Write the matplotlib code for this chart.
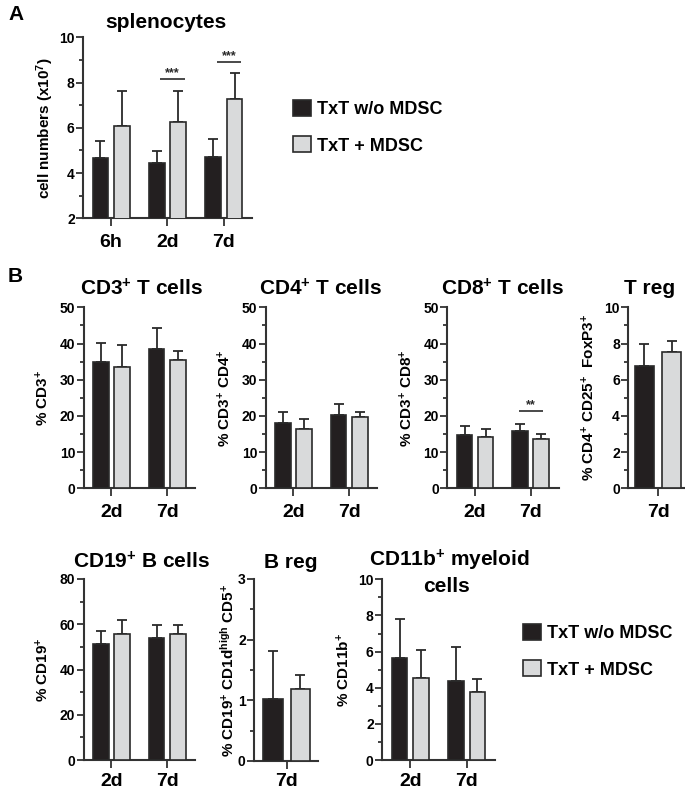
import matplotlib
matplotlib.use('Agg')
import matplotlib.pyplot as plt
from matplotlib.patches import Patch
from matplotlib.ticker import MultipleLocator
import numpy as np

plt.rcParams['font.family'] = ['Liberation Sans', 'DejaVu Sans']
plt.rcParams['font.weight'] = 'bold'
plt.rcParams['mathtext.fontset'] = 'custom'
plt.rcParams['mathtext.rm'] = 'Liberation Sans:bold'
plt.rcParams['mathtext.it'] = 'Liberation Sans:bold'
plt.rcParams['mathtext.bf'] = 'Liberation Sans:bold'
plt.rcParams['mathtext.sf'] = 'Liberation Sans:bold'
plt.rcParams['mathtext.default'] = 'rm'

# ---------------- data ----------------
series = ['TxT w/o MDSC', 'TxT + MDSC']

spl_cats = ['6h', '2d', '7d']
spl_wo = [4.68, 4.43, 4.71]
spl_wo_sd = [0.74, 0.56, 0.81]
spl_md = [6.08, 6.26, 7.26]
spl_md_sd = [1.55, 1.37, 1.16]
spl_sig = [(1, 8.17, '***'), (2, 8.91, '***')]

cd3_cats = ['2d', '7d']
cd3_wo = [34.8, 38.4]
cd3_wo_sd = [5.4, 5.9]
cd3_md = [33.5, 35.4]
cd3_md_sd = [6.1, 2.5]

cd4_cats = ['2d', '7d']
cd4_wo = [18.0, 20.3]
cd4_wo_sd = [3.2, 3.1]
cd4_md = [16.5, 19.7]
cd4_md_sd = [2.7, 1.5]

cd8_cats = ['2d', '7d']
cd8_wo = [14.7, 15.7]
cd8_wo_sd = [2.5, 2.0]
cd8_md = [14.2, 13.5]
cd8_md_sd = [2.1, 1.6]
cd8_sig = [(1, 21.4, '**')]

treg_cats = ['7d']
treg_wo = [6.74]
treg_wo_sd = [1.22]
treg_md = [7.51]
treg_md_sd = [0.61]

cd19_cats = ['2d', '7d']
cd19_wo = [51.3, 53.9]
cd19_wo_sd = [5.6, 5.6]
cd19_md = [55.8, 55.8]
cd19_md_sd = [5.9, 3.7]

breg_cats = ['7d']
breg_wo = [1.03]
breg_wo_sd = [0.78]
breg_md = [1.18]
breg_md_sd = [0.24]

cd11_cats = ['2d', '7d']
cd11_wo = [5.63, 4.39]
cd11_wo_sd = [2.16, 1.86]
cd11_md = [4.52, 3.78]
cd11_md_sd = [1.57, 0.70]

# ---------------- style ----------------
BLACK = '#231f20'
GREY = '#d9dadb'
EDGE = '#2a2a2a'
AXC = '#333333'

W, H = 685, 790
fig = plt.figure(figsize=(W / 100, H / 100), dpi=100)


def make_ax(l, t, r, b):
    return fig.add_axes([l / W, 1 - b / H, (r - l) / W, (b - t) / H])


def panel(box, cats, wo, wo_sd, md, md_sd, ylim, major, minor, ylabel,
          width, off, xlim=None, sig=(), sig_span=(-0.15, 0.3), labelpad=4,
          ylabsize=11, xpad=5):
    ax = make_ax(*box)
    x = np.arange(len(cats))
    for vals, sd, col, sgn in ((wo, wo_sd, BLACK, -1), (md, md_sd, GREY, 1)):
        xs = x + sgn * off
        ax.errorbar(xs, vals, yerr=[np.zeros(len(vals)), sd], fmt='none',
                    ecolor=EDGE, elinewidth=1.3, capsize=3.5, capthick=1.3,
                    zorder=2)
        ax.bar(xs, vals, width=width, color=col, edgecolor=EDGE,
               linewidth=1.2, zorder=3)
    if xlim is None:
        xlim = (-0.5, len(cats) - 0.5)
    ax.set_xlim(*xlim)
    ax.set_ylim(*ylim)
    ax.set_xticks(x)
    ax.set_xticklabels(cats, fontsize=14, fontweight='bold')
    ax.yaxis.set_major_locator(MultipleLocator(major))
    ax.yaxis.set_minor_locator(MultipleLocator(minor))
    for s in ('top', 'right'):
        ax.spines[s].set_visible(False)
    for s in ('left', 'bottom'):
        ax.spines[s].set_linewidth(1.5)
        ax.spines[s].set_color(AXC)
    ax.tick_params(axis='y', which='major', length=5, width=1.3, color=AXC,
                   labelsize=10, pad=1)
    ax.tick_params(axis='y', which='minor', length=3, width=1.3, color=AXC)
    ax.tick_params(axis='x', which='major', length=6, width=1.3, color=AXC,
                   pad=xpad)
    ax.tick_params(axis='x', which='minor', length=0)
    for lab in ax.get_yticklabels():
        lab.set_fontweight('bold')
    ax.set_ylabel(ylabel, fontsize=ylabsize, fontweight='bold',
                  labelpad=labelpad)
    for (xi, yv, txt) in sig:
        ax.plot([xi + sig_span[0], xi + sig_span[1]], [yv, yv], color=EDGE,
                lw=1.2, solid_capstyle='butt', zorder=4)
        ax.text(xi + (sig_span[0] + sig_span[1]) / 2, yv, txt,
                ha='center', va='bottom', fontsize=9, color=EDGE)
    return ax


# Panel A
axA = panel((83, 37.3, 252, 218.3), spl_cats, spl_wo, spl_wo_sd, spl_md,
            spl_md_sd, (2, 10), 2, 1, 'cell numbers (x10$^{7}$)',
            0.28, 0.19, sig=spl_sig, sig_span=(-0.13, 0.31), labelpad=2)
fig.text(166 / W, 1 - 23 / H, 'splenocytes', ha='center', va='center',
         fontsize=15, fontweight='bold')

# Row B1
ax3 = panel((83.5, 307.3, 195, 488.3), cd3_cats, cd3_wo, cd3_wo_sd, cd3_md,
            cd3_md_sd, (0, 50), 10, 5, '% CD3$^{+}$', 0.28, 0.19,
            labelpad=6)
ax4 = panel((265.5, 307.3, 377, 488.3), cd4_cats, cd4_wo, cd4_wo_sd, cd4_md,
            cd4_md_sd, (0, 50), 10, 5, '% CD3$^{+}$ CD4$^{+}$', 0.28, 0.19,
            labelpad=6)
ax8 = panel((447.3, 307.3, 558.5, 488.3), cd8_cats, cd8_wo, cd8_wo_sd,
            cd8_md, cd8_md_sd, (0, 50), 10, 5, '% CD3$^{+}$ CD8$^{+}$',
            0.28, 0.19, sig=cd8_sig, sig_span=(-0.21, 0.22), labelpad=6)
axT = panel((628.3, 307.3, 685, 488.3), treg_cats, treg_wo, treg_wo_sd,
            treg_md, treg_md_sd, (0, 10), 2, 1,
            '% CD4$^{+}$ CD25$^{+}$  FoxP3$^{+}$', 0.33, 0.24,
            xlim=(-0.52, 0.47), labelpad=5)

for ax, title, xc in ((ax3, 'CD3$^{+}$ T cells', 141),
                      (ax4, 'CD4$^{+}$ T cells', 320),
                      (ax8, 'CD8$^{+}$ T cells', 502),
                      (axT, 'T reg', 650)):
    fig.text(xc / W, 1 - 289 / H, title, ha='center', va='center',
             fontsize=15, fontweight='bold')

# Row B2
ax19 = panel((83.5, 579, 195, 760), cd19_cats, cd19_wo, cd19_wo_sd, cd19_md,
             cd19_md_sd, (0, 80), 20, 10, '% CD19$^{+}$', 0.28, 0.19,
             labelpad=6, xpad=3)
axB = panel((254, 579, 318, 761), breg_cats, breg_wo, breg_wo_sd, breg_md,
            breg_md_sd, (0, 3), 1, 0.5,
            '% CD19$^{+}$ CD1d$^{high}$ CD5$^{+}$', 0.31, 0.22,
            xlim=(-0.52, 0.5), labelpad=1, xpad=3)
ax11 = panel((382, 579.3, 495, 760), cd11_cats, cd11_wo, cd11_wo_sd, cd11_md,
             cd11_md_sd, (0, 10), 2, 1, '% CD11b$^{+}$', 0.28, 0.19,
             labelpad=4, xpad=3)

fig.text(141 / W, 1 - 562 / H, 'CD19$^{+}$ B cells', ha='center',
         va='center', fontsize=15, fontweight='bold')
fig.text(291 / W, 1 - 562 / H, 'B reg', ha='center', va='center',
         fontsize=15, fontweight='bold')
fig.text(449 / W, 1 - 560 / H, 'CD11b$^{+}$ myeloid', ha='center',
         va='center', fontsize=15, fontweight='bold')
fig.text(447 / W, 1 - 586 / H, 'cells', ha='center',
         va='center', fontsize=15, fontweight='bold')

# Panel letters
fig.text(8 / W, 1 - 14 / H, 'A', ha='left', va='center', fontsize=15,
         fontweight='bold')
fig.text(8 / W, 1 - 276 / H, 'B', ha='left', va='center', fontsize=15,
         fontweight='bold')

# Legends
handles = [Patch(facecolor=BLACK, edgecolor=EDGE, linewidth=1.2),
           Patch(facecolor=GREY, edgecolor=EDGE, linewidth=1.2)]
for (lx, ly) in ((293, 100), (523, 624)):
    fig.legend(handles, series, loc='upper left',
               bbox_to_anchor=(lx / W, 1 - ly / H), frameon=False,
               handlelength=1.0, handleheight=1.0,
               handletextpad=0.35, labelspacing=1.0, borderpad=0,
               borderaxespad=0, prop={'weight': 'bold', 'size': 13})

fig.savefig('out.png', dpi=100)
